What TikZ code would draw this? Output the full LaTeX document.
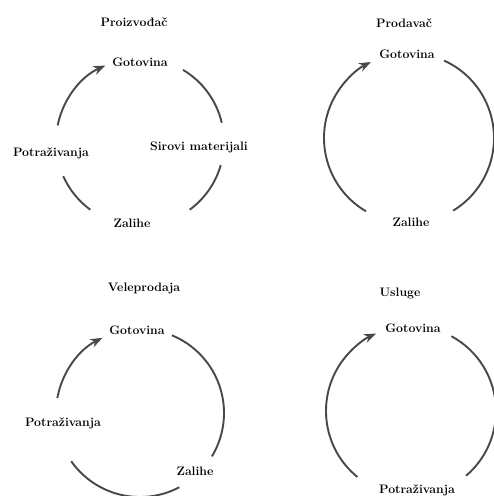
\documentclass[tikz,border=0pt]{standalone}
\usetikzlibrary{arrows.meta}
\definecolor{arcgray}{HTML}{484848}
\begin{document}
\begin{tikzpicture}[x=1pt,y=1pt,
  lbl/.style={font=\fontsize{12.3}{14}\selectfont\bfseries, inner sep=0pt, text=black},
  cyc/.style={draw=arcgray, line width=1.9pt},
  arr/.style={-{Stealth[length=12pt,width=9pt]}}]
\useasboundingbox (0,0) rectangle (494,496);
\clip (0,0) rectangle (494,496);
\fill[white] (0,0) rectangle (494,496);

% Panel 1: Proizvodac
\coordinate (c1) at (140,354);
\node[lbl] (t1) at (134,474) {Proizvođač};
\node[lbl] (g1) at (140,434) {Gotovina};
\node[lbl] (p1) at (51,343) {Potraživanja};
\node[lbl] (s1) at (199,349) {Sirovi materijali};
\node[lbl] (z1) at (132,273) {Zalihe};
\draw[cyc,arr] (c1) ++(168.6:84) arc[start angle=168.6, end angle=114.4, radius=84];
\draw[cyc] (c1) ++(59.2:84) arc[start angle=59.2, end angle=13.2, radius=84];
\draw[cyc] (c1) ++(-16:84) arc[start angle=-16, end angle=-53.7, radius=84];
\draw[cyc] (c1) ++(233.7:84) arc[start angle=233.7, end angle=204, radius=84];

% Panel 2: Prodavac
\coordinate (c2) at (409,358);
\node[lbl] (t2) at (404,473) {Prodavač};
\node[lbl] (g2) at (407,442) {Gotovina};
\node[lbl] (z2) at (411,274) {Zalihe};
\draw[cyc,arr] (c2) ++(239.6:85) arc[start angle=239.6, end angle=116.6, radius=85];
\draw[cyc] (c2) ++(65.6:85) arc[start angle=65.6, end angle=-58.7, radius=85];

% Panel 3: Veleprodaja
\coordinate (c3) at (140,83);
\node[lbl] (t3) at (144,208) {Veleprodaja};
\node[lbl] (g3) at (137,166) {Gotovina};
\node[lbl] (p3) at (63,73) {Potraživanja};
\node[lbl] (z3) at (195,25) {Zalihe};
\draw[cyc,arr] (c3) ++(169.8:84) arc[start angle=169.8, end angle=116.6, radius=84];
\draw[cyc] (c3) ++(67.7:84) arc[start angle=67.7, end angle=-31.1, radius=84];
\draw[cyc] (c3) ++(215:84) arc[start angle=215, end angle=297.9, radius=84];

% Panel 4: Usluge
\coordinate (c4) at (411,85);
\node[lbl] (t4) at (400,203) {Usluge};
\node[lbl] (g4) at (413,168) {Gotovina};
\node[lbl] (p4) at (417,6) {Potraživanja};
\draw[cyc,arr] (c4) ++(230.9:85) arc[start angle=230.9, end angle=114.3, radius=85];
\draw[cyc] (c4) ++(61.6:85) arc[start angle=61.6, end angle=-49.6, radius=85];
\end{tikzpicture}
\end{document}
